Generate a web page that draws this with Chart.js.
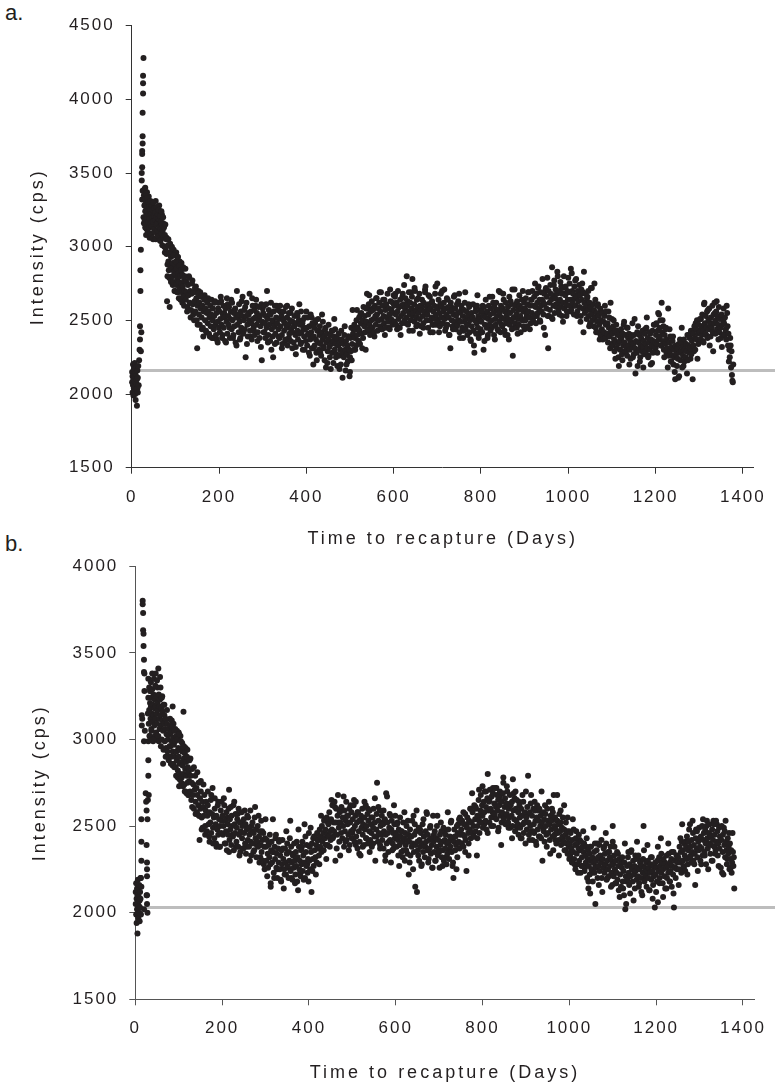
<!DOCTYPE html>
<html><head><meta charset="utf-8">
<script src="https://cdn.jsdelivr.net/npm/chart.js@4.4.1/dist/chart.umd.min.js"></script>
<style>
html,body{margin:0;padding:0;background:#fff;width:775px;height:1088px;overflow:hidden;position:relative;}
canvas{position:absolute;left:0;}
.lbl{position:absolute;font-family:"Liberation Sans",Arial,sans-serif;font-size:22px;line-height:22px;color:#231f20;}
</style></head><body>
<div class="lbl" style="left:5px;top:2px">a.</div>
<div class="lbl" style="left:5px;top:533px">b.</div>
<canvas id="cA" width="775" height="552" style="top:0"></canvas>
<canvas id="cB" width="775" height="543" style="top:545px"></canvas>
<script>
// ---------- DATA ----------
const xTicks = [0, 200, 400, 600, 800, 1000, 1200, 1400];
const yTicksA = [1500, 2000, 2500, 3000, 3500, 4000, 4500];
const yTicksB = [1500, 2000, 2500, 3000, 3500, 4000];
const baselineA = 2160;
const baselineB = 2030;
const xTitle = 'Time to recapture (Days)';
const yTitle = 'Intensity (cps)';

// Panel a: day of recapture and intensity (cps)
const daysA = [
1,1,2,2,3,3,4,4,5,5,6,6,7,7,8,8,9,9,10,10,11,11,12,12,13,13,14,14,15,16,
17,18,19,19,20,20,21,21,22,23,23,24,24,24,25,25,25,26,26,26,27,25,24,
27,28,28,29,29,30,30,31,31,32,32,33,33,34,34,35,36,36,37,38,38,39,40,40,41,42,42,43,44,44,45,46,46,47,48,48,49,50,51,51,52,53,54,54,55,56,57,57,58,59,60,61,61,62,63,64,65,65,66,67,68,68,69,70,71,72,73,74,75,76,77,78,79,
80,81,82,83,84,85,86,87,88,89,90,91,92,93,94,95,96,97,98,99,100,101,102,103,104,105,106,107,108,109,110,111,112,113,114,115,116,117,118,119,120,
121,122,124,125,126,128,129,130,132,133,134,136,137,138,140,141,142,144,145,146,148,149,150,151,152,154,155,156,158,159,160,162,163,164,165,166,168,169,170,172,173,174,176,177,178,180,181,182,184,185,186,188,189,190,192,193,194,196,197,198,200,
201,202,203,205,206,207,209,210,211,213,214,215,217,218,219,221,222,223,225,226,227,229,230,231,233,234,235,237,238,239,241,242,243,245,246,247,249,250,251,253,254,255,257,258,259,261,262,263,265,266,267,269,270,271,273,274,275,277,278,279,281,282,283,285,286,287,289,290,291,293,294,295,297,298,299,
301,302,303,305,306,307,309,310,311,313,314,315,317,318,319,321,322,323,324,325,327,328,329,331,332,333,335,336,337,339,340,341,343,344,345,347,348,349,351,352,353,355,356,357,359,360,361,363,364,365,367,368,369,371,372,373,375,376,377,379,380,381,383,384,385,387,388,389,391,392,393,395,396,397,399,
401,402,403,405,406,407,409,410,411,413,414,416,417,418,419,421,422,423,425,426,427,429,430,431,433,434,435,437,438,439,441,442,443,445,446,447,449,450,451,453,454,455,457,458,459,461,462,463,465,466,467,469,470,471,473,474,475,477,478,479,481,482,483,485,486,487,489,490,491,493,494,495,497,498,499,500,
501,502,503,505,506,507,509,510,511,513,514,515,517,518,519,521,522,523,525,526,527,529,530,531,533,534,535,537,538,539,541,542,543,545,546,547,549,550,551,553,554,555,557,558,559,561,562,563,565,566,567,569,570,571,573,574,575,577,578,579,581,582,583,585,586,587,589,590,591,593,594,595,597,598,599,
601,602,603,605,606,607,609,610,611,613,614,615,617,618,619,621,622,623,625,626,627,629,630,631,633,634,635,637,638,639,641,642,643,644,645,647,648,649,651,652,653,655,656,657,659,660,661,663,664,665,667,668,669,671,672,673,675,676,677,679,680,681,683,684,685,687,688,689,690,691,693,694,695,697,698,699,700,
701,702,703,705,706,707,709,710,711,713,714,715,717,718,719,721,722,723,725,726,727,729,730,731,733,734,735,737,738,739,741,742,743,745,746,747,749,750,751,753,754,755,757,758,759,761,762,763,765,766,767,769,770,771,773,774,775,777,778,779,781,782,783,785,786,787,789,790,791,793,794,795,797,798,799,
801,802,803,805,806,807,809,810,811,813,814,815,817,818,819,821,822,823,825,826,827,829,830,831,833,834,835,837,838,839,841,842,843,845,846,847,849,850,851,853,854,855,857,858,859,861,862,863,865,866,867,869,870,871,873,874,875,877,878,879,881,882,883,885,886,887,889,890,891,893,894,895,897,898,899,
901,902,903,905,906,907,909,910,911,913,914,915,917,918,919,921,922,923,925,926,927,929,930,931,933,934,935,937,938,939,941,942,943,945,946,947,949,950,951,953,954,955,957,958,959,961,962,963,965,966,967,969,970,971,973,974,975,977,978,979,981,982,983,985,986,987,989,990,991,993,994,995,997,998,999,
1001,1002,1003,1005,1006,1007,1009,1010,1011,1013,1014,1015,1017,1018,1019,1021,1022,1023,1025,1026,1027,1029,1030,1031,1033,1034,1035,1037,1038,1039,1041,1042,1043,1045,1046,1047,1049,1050,1051,1053,1054,1055,1057,1058,1059,1061,1062,1063,1065,1066,1067,1069,1070,1071,1073,1074,1075,1077,1078,1079,1081,1082,1083,1085,1086,1087,1089,1090,1091,1093,1094,1095,1097,1098,1099,
1101,1102,1103,1105,1106,1107,1109,1110,1111,1113,1114,1115,1117,1118,1119,1121,1122,1123,1125,1126,1127,1129,1130,1131,1133,1134,1135,1137,1138,1139,1141,1142,1143,1145,1146,1147,1149,1150,1151,1153,1154,1155,1157,1158,1159,1161,1162,1163,1165,1166,1167,1169,1170,1171,1173,1174,1175,1177,1178,1179,1181,1182,1183,1185,1186,1187,1189,1190,1191,1193,1194,1195,1197,1198,1199,
1201,1202,1203,1205,1206,1207,1209,1210,1211,1213,1214,1215,1217,1218,1219,1221,1222,1223,1225,1226,1227,1229,1230,1231,1233,1234,1235,1237,1238,1239,1241,1242,1243,1245,1246,1247,1249,1250,1251,1253,1254,1255,1257,1258,1259,1261,1262,1263,1265,1266,1267,1269,1270,1271,1273,1274,1275,1277,1278,1279,1281,1282,1283,1285,1286,1287,1289,1290,1291,1293,1294,1295,1297,1298,1299,
1301,1302,1303,1305,1306,1307,1309,1310,1311,1313,1314,1315,1317,1318,1319,1321,1322,1323,1325,1326,1327,1329,1330,1331,1333,1334,1335,1337,1338,1339,1341,1342,1343,1345,1346,1347,1349,1350,1351,1353,1354,1355,1357,1358,1359,1361,1362,1363,1365,1366,1367,1369,1370,1371,1373,1374,1375,1377,1378
];
const cpsA = [
2080,2150,2010,2120,2200,2060,2100,1990,2170,2040,2130,2090,2210,2050,2000,2140,2080,1960,2120,2030,2180,2070,1920,2100,2040,2160,2010,2110,2190,2060,
2230,2300,2370,2460,2700,2840,2980,2290,2420,3450,3500,3540,3630,3650,3700,3750,3910,4040,4110,4160,4280,3380,3320,
3200,3350,3160,3390,3280,3180,3320,3240,3400,3150,3290,3210,3360,3120,3260,3330,3190,3240,3100,3300,3170,3220,3270,3130,3190,3250,3090,3310,3160,3220,3080,3280,3140,3200,3250,3060,3170,3300,3120,3210,3260,3100,3180,3230,3050,3150,3270,3200,3110,3160,3220,3070,3190,3250,3130,3180,3040,3210,3120,3170,3240,3090,3150,3010,3110,3200,3060,3130,3000,3080,3150,2990,3050,
2950,2630,2880,3010,2900,2840,2960,2590,2870,2780,2930,2850,2990,2800,2890,2760,2940,2830,2700,2880,2810,2900,2740,2850,2780,2930,2690,2820,2760,2870,2720,2800,2650,2840,2750,2690,2810,2730,2860,2660,2770,
2700,2800,2640,2760,2690,2590,2740,2670,2790,2620,2700,2570,2680,2750,2610,2540,2690,2630,2720,2560,2650,2500,2310,2600,2680,2540,2620,2470,2580,2660,2520,2600,2450,2390,2560,2640,2500,2580,2430,2550,2620,2480,2560,2410,2520,2600,2460,2540,2380,2500,2580,2440,2530,2620,2470,2400,2550,2490,2350,2580,2450,
2560,2420,2510,2630,2470,2380,2540,2600,2450,2520,2360,2580,2490,2650,2410,2530,2470,2590,2380,2510,2560,2440,2620,2500,2400,2550,2460,2580,2350,2520,2700,2470,2540,2420,2610,2490,2380,2560,2450,2530,2660,2410,2500,2570,2440,2250,2530,2620,2470,2390,2550,2500,2680,2430,2560,2480,2370,2600,2510,2450,2570,2400,2520,2640,2470,2550,2420,2500,2590,2380,2530,2460,2610,2230,2490,
2550,2420,2600,2480,2380,2530,2450,2700,2510,2400,2570,2470,2360,2540,2620,2440,2500,2390,2250,2560,2460,2600,2410,2520,2350,2480,2570,2440,2510,2380,2600,2460,2530,2400,2340,2500,2560,2430,2480,2370,2590,2450,2520,2330,2470,2550,2410,2500,2360,2440,2580,2420,2490,2350,2460,2530,2400,2320,2480,2550,2430,2370,2500,2410,2470,2340,2560,2420,2480,2300,2450,2390,2520,2440,2360,
2450,2330,2520,2400,2280,2460,2370,2540,2420,2310,2480,2200,2390,2450,2330,2500,2370,2280,2430,2350,2510,2300,2400,2460,2340,2260,2420,2370,2490,2310,2390,2230,2440,2180,2350,2410,2290,2370,2470,2320,2250,2400,2340,2430,2280,2360,2210,2390,2300,2440,2340,2270,2380,2190,2330,2410,2260,2350,2300,2200,2370,2280,2110,2340,2250,2400,2300,2160,2360,2270,2330,2220,2390,2300,2120,2250,
2380,2290,2450,2340,2570,2410,2300,2470,2380,2440,2330,2500,2400,2450,2360,2520,2430,2340,2480,2550,2410,2500,2380,2590,2460,2530,2420,2580,2490,2680,2440,2540,2610,2470,2400,2560,2500,2630,2450,2570,2510,2420,2600,2530,2470,2650,2540,2430,2580,2500,2620,2460,2560,2690,2510,2440,2600,2530,2480,2640,2570,2450,2610,2520,2680,2490,2580,2540,2440,2630,2510,2570,2470,2620,2550,
2600,2490,2660,2540,2470,2620,2560,2700,2510,2590,2450,2640,2530,2600,2480,2680,2550,2610,2500,2580,2650,2520,2800,2600,2470,2560,2690,2540,2620,2500,2580,2660,2780,2430,2550,2610,2490,2700,2570,2520,2640,2470,2590,2550,2680,2510,2600,2460,2570,2640,2530,2480,2620,2560,2690,2730,2500,2590,2540,2450,2610,2570,2660,2500,2580,2520,2630,2470,2420,2560,2600,2510,2680,2540,2470,2590,2750,
2580,2490,2640,2550,2460,2610,2520,2590,2700,2480,2560,2620,2510,2430,2580,2540,2650,2470,2590,2520,2400,2560,2310,2620,2500,2570,2460,2540,2660,2490,2580,2440,2530,2610,2470,2550,2500,2680,2420,2560,2490,2600,2450,2530,2380,2570,2490,2620,2440,2510,2560,2400,2530,2470,2590,2420,2500,2360,2550,2460,2520,2610,2430,2280,2500,2560,2410,2480,2600,2450,2530,2380,2510,2570,2440,
2490,2560,2420,2530,2300,2590,2470,2520,2640,2450,2560,2380,2510,2600,2470,2540,2430,2580,2500,2660,2460,2550,2400,2590,2510,2470,2620,2530,2440,2570,2700,2490,2550,2420,2600,2520,2460,2580,2680,2510,2430,2560,2620,2480,2540,2400,2590,2510,2660,2470,2550,2610,2500,2440,2260,2570,2520,2710,2480,2600,2540,2450,2630,2510,2570,2470,2600,2530,2420,2580,2640,2500,2560,2460,2620,
2580,2500,2650,2540,2460,2610,2560,2690,2520,2600,2480,2640,2550,2700,2510,2600,2660,2530,2590,2480,2680,2620,2550,2720,2580,2640,2500,2690,2600,2560,2780,2630,2540,2680,2610,2400,2720,2580,2660,2530,2310,2700,2620,2570,2740,2640,2520,2860,2670,2600,2740,2550,2650,2710,2590,2680,2830,2620,2560,2700,2640,2760,2590,2680,2530,2720,2620,2800,2580,2670,2730,2610,2560,2700,2640,
2690,2600,2750,2640,2850,2570,2700,2620,2680,2540,2730,2650,2600,2780,2660,2560,2700,2630,2740,2590,2670,2530,2710,2640,2580,2690,2420,2620,2550,2680,2600,2510,2650,2570,2700,2530,2620,2480,2590,2540,2720,2500,2610,2460,2570,2520,2640,2450,2550,2490,2600,2420,2530,2470,2580,2400,2500,2440,2550,2370,2490,2420,2530,2380,2470,2560,2410,2480,2350,2450,2520,2390,2620,2430,2340,
2410,2330,2460,2370,2290,2430,2350,2470,2310,2400,2340,2250,2420,2360,2300,2440,2380,2270,2410,2330,2470,2350,2290,2400,2320,2450,2260,2380,2330,2410,2300,2360,2240,2390,2320,2480,2340,2270,2400,2310,2140,2360,2280,2420,2190,2350,2300,2400,2250,2330,2380,2290,2430,2320,2360,2270,2410,2340,2290,2450,2310,2380,2250,2350,2420,2300,2200,2370,2330,2430,2280,2360,2320,2470,2350,
2400,2480,2340,2430,2550,2370,2450,2390,2500,2330,2620,2420,2360,2460,2300,2400,2340,2440,2280,2370,2310,2580,2260,2350,2290,2390,2220,2320,2260,2360,2200,2300,2250,2100,2330,2270,2190,2310,2240,2340,2120,2280,2230,2350,2290,2180,2320,2260,2370,2220,2300,2250,2340,2290,2400,2230,2330,2280,2380,2310,2430,2270,2360,2100,2410,2330,2460,2380,2300,2440,2370,2500,2410,2340,2470,
2420,2510,2370,2460,2400,2540,2430,2350,2610,2480,2410,2530,2450,2560,2380,2500,2440,2580,2470,2390,2520,2450,2600,2420,2540,2480,2620,2410,2500,2560,2440,2530,2470,2590,2420,2510,2450,2380,2540,2470,2400,2500,2480,2400,2520,2440,2370,2600,2460,2330,2410,2300,2250,2380,2180,2290,2130,2080,2200
];
// Panel a: additional recaptures on the same / in-between days
const daysA2 = [
28,31,33,35,37,39,41,43,45,47,49,52,55,58,60,63,66,69,72,76,
80,82,84,86,88,90,92,94,96,98,100,102,104,106,108,110,112,114,116,118,120,123,127,131,135,139,143,147,151,153,157,161,167,171,175,179,183,187,191,195,199,
204,208,212,216,220,224,228,232,236,240,244,248,252,256,260,264,268,272,276,280,284,288,292,296,300,
304,308,312,316,320,324,328,332,336,340,344,348,352,356,360,364,368,372,376,380,384,388,392,396,400,
404,408,412,416,420,424,428,432,436,440,444,448,452,456,460,464,468,472,476,480,484,488,492,496,500,
504,508,512,516,520,524,528,532,536,540,544,548,552,556,560,564,568,572,576,580,584,588,592,596,600,
604,608,612,616,620,624,628,632,636,640,644,648,652,656,660,664,668,672,676,680,684,688,692,696,700,
704,708,712,716,720,724,728,732,736,740,744,748,752,756,760,764,768,772,776,780,784,788,792,796,800,
804,808,812,816,820,824,828,832,836,840,844,848,852,856,860,864,868,872,876,880,884,888,892,896,900,
904,908,912,916,920,924,928,932,936,940,944,948,952,956,960,964,968,972,976,980,984,988,992,996,1000,
1004,1008,1012,1016,1020,1024,1028,1032,1036,1040,1044,1048,1052,1056,1060,1064,1068,1072,1076,1080,1084,1088,1092,1096,1100,
1104,1108,1112,1116,1120,1124,1128,1132,1136,1140,1144,1148,1152,1156,1160,1164,1168,1172,1176,1180,1184,1188,1192,1196,1200,
1204,1208,1212,1216,1220,1224,1228,1232,1236,1240,1244,1248,1252,1256,1260,1264,1268,1272,1276,1280,1284,1288,1292,1296,1300,
1304,1308,1312,1316,1320,1324,1328,1332,1336,1340,1344,1348,1352,1356,1360,1364,1368,1372,1376
];
const cpsA2 = [
3380,3130,3080,3370,3230,3340,3060,3200,3300,3180,3050,3150,3310,3260,3080,3280,3040,3220,3160,2960,
3060,2800,3050,2790,3020,2760,3000,2740,2980,2950,2700,2960,2690,2930,2650,2900,2640,2890,2620,2850,2600,2850,2560,2800,2520,2770,2500,2730,2470,2700,2690,2440,2670,2420,2650,2390,2640,2380,2630,2370,2620,
2660,2400,2550,2350,2610,2450,2640,2380,2570,2330,2520,2370,2630,2420,2590,2340,2540,2390,2650,2430,2600,2360,2510,2320,2580,
2420,2610,2350,2540,2300,2490,2340,2600,2390,2560,2310,2510,2360,2600,2380,2550,2310,2460,2270,2530,2610,2350,2500,2300,2560,
2410,2260,2520,2310,2480,2230,2430,2280,2540,2320,2450,2210,2360,2170,2430,2510,2250,2370,2170,2430,2270,2460,2200,2390,2150,
2230,2440,2300,2570,2360,2540,2310,2470,2300,2580,2670,2420,2580,2390,2650,2500,2690,2440,2640,2400,2590,2450,2710,2500,2670,
2680,2440,2590,2400,2660,2740,2480,2630,2430,2690,2530,2720,2460,2650,2410,2600,2450,2710,2500,2670,2420,2620,2470,2730,2510,
2420,2680,2520,2710,2450,2640,2400,2590,2440,2670,2460,2630,2380,2580,2430,2690,2470,2610,2370,2520,2330,2590,2670,2410,2560,
2600,2360,2550,2400,2660,2450,2620,2370,2570,2430,2690,2470,2640,2400,2560,2370,2630,2710,2450,2610,2410,2670,2510,2700,2440,
2520,2690,2440,2640,2490,2750,2530,2730,2490,2640,2450,2710,2790,2530,2680,2510,2770,2610,2800,2540,2730,2490,2680,2530,2790,
2560,2820,2600,2770,2530,2680,2490,2750,2830,2570,2660,2460,2720,2560,2750,2420,2610,2370,2560,2410,2600,2390,2560,2310,2510,
2500,2240,2430,2190,2380,2230,2490,2280,2450,2200,2400,2250,2510,2290,2460,2220,2370,2180,2440,2520,2260,2410,2210,2470,2310,
2280,2540,2330,2500,2250,2450,2180,2440,2220,2390,2150,2300,2110,2370,2450,2190,2340,2140,2400,2240,2430,2290,2480,2240,2430,
2510,2360,2620,2400,2570,2330,2480,2290,2550,2630,2370,2520,2320,2580,2420,2550,2220,2330,2090
];

// Panel b: day of recapture and intensity (cps)
const daysB = [
1,1,2,2,3,3,4,4,5,5,6,6,7,7,8,8,9,9,10,10,11,11,12,12,13,14,27,27,28,
13,14,14,14,15,15,16,17,17,18,18,19,19,20,20,21,21,20,20,22,24,25,26,26,26,27,27,27,28,29,30,30,30,31,
29,30,31,32,32,33,34,34,35,36,36,37,38,38,39,40,40,41,42,42,43,44,44,45,46,46,47,48,48,49,50,50,51,52,53,53,54,55,55,56,57,58,58,59,60,61,61,62,63,64,64,65,66,67,68,69,70,71,72,73,74,75,76,77,78,79,80,
81,82,83,84,85,86,86,87,88,89,90,91,92,93,94,95,96,97,98,99,100,101,101,102,103,104,105,106,107,108,109,110,111,111,112,113,114,115,116,117,118,119,120,121,122,123,124,125,126,128,129,130,131,133,134,135,137,138,139,141,142,143,145,146,147,148,149,150,151,153,154,155,157,158,159,161,162,163,165,166,167,169,170,171,173,174,175,177,178,179,181,182,183,185,186,187,189,190,191,193,194,195,197,198,199,
201,202,203,205,206,207,209,210,211,213,214,215,216,217,218,219,221,222,223,225,226,227,229,230,231,233,234,235,237,238,239,241,242,243,245,246,247,249,250,251,253,254,255,257,258,259,261,262,263,265,266,267,269,270,271,273,274,275,277,278,279,281,282,283,285,286,287,289,290,291,293,294,295,297,298,299,
301,302,303,305,306,307,309,310,311,312,313,314,315,317,318,319,321,322,323,325,326,327,329,330,331,333,334,335,337,338,339,341,342,343,345,346,347,349,350,351,353,354,355,357,358,359,361,362,363,365,366,367,369,370,371,373,374,375,377,378,379,381,382,383,385,386,387,389,390,391,393,394,395,397,398,399,
401,402,403,405,406,407,409,410,411,413,414,415,417,418,419,421,422,423,425,426,427,429,430,431,433,434,435,437,438,439,441,442,443,445,446,447,449,450,451,453,454,455,457,458,459,461,
462,463,465,466,467,469,470,471,473,474,475,477,478,479,481,482,483,485,486,487,489,490,491,493,494,495,497,498,499,501,502,503,505,506,507,508,509,511,512,513,515,516,517,519,520,521,523,524,525,527,528,529,531,532,533,535,536,537,539,540,541,543,544,545,547,548,549,551,552,553,555,556,557,559,560,561,563,564,565,567,568,569,571,572,573,575,576,577,578,579,581,582,583,585,586,587,589,590,591,593,594,595,597,598,599,
601,602,603,605,606,607,609,610,611,613,614,615,617,618,619,621,622,623,625,626,627,629,630,631,633,634,635,637,638,639,641,642,643,645,646,647,649,650,651,653,654,655,657,658,659,661,662,663,665,666,667,669,670,671,673,674,675,677,678,679,681,682,683,685,686,687,689,690,691,693,694,695,697,698,699,701,702,703,705,706,707,709,710,711,713,714,715,717,718,719,721,722,723,725,726,727,729,730,731,733,734,735,737,738,739,741,742,743,745,746,747,749,
751,752,753,755,756,757,759,760,761,763,764,765,767,768,769,771,772,773,775,776,777,779,780,781,783,784,785,787,788,789,791,792,793,795,796,797,799,800,801,803,804,805,807,808,809,811,812,813,815,816,817,819,820,821,823,824,825,827,828,829,831,832,833,835,836,837,839,840,841,843,844,845,847,848,849,851,852,853,855,856,857,859,860,861,863,864,865,867,868,869,870,871,873,874,875,877,878,879,881,882,883,885,886,887,889,890,891,893,894,895,897,898,899,
901,902,903,905,906,907,909,910,911,913,914,915,917,918,919,921,922,923,925,926,927,929,930,931,933,934,935,937,938,939,941,942,943,945,946,947,949,950,951,953,954,955,957,958,959,961,962,963,965,966,967,969,970,971,972,973,975,976,977,979,980,981,983,984,985,987,988,989,991,992,993,995,996,997,999,1000,
1001,1002,1003,1005,1006,1007,1009,1010,1011,1013,1014,1015,1017,1018,1019,1021,1022,1023,1025,1026,1027,1029,1030,1031,1033,1034,1035,1037,1038,1039,1041,1042,1043,1044,1045,1046,1047,1048,1049,1050,1051,1053,1054,1055,1057,1058,1059,1060,1061,1062,1063,1065,1066,1067,1069,1070,1071,1073,1074,1075,1077,1078,1079,1081,1082,1083,1085,1086,1087,1089,1090,1091,1093,1094,1095,1097,1098,1099,1100,
1101,1102,1103,1105,1106,1107,1109,1110,1111,1113,1114,1115,1117,1118,1119,1121,1122,1123,1125,1126,1127,1129,1130,1131,1133,1134,1135,1137,1138,1139,1141,1142,1143,1145,1146,1147,1149,1150,1151,1153,1154,1155,1157,1158,1159,1161,1162,1163,1165,1166,1167,1169,1170,1171,1173,1174,1175,1177,1178,1179,1181,1182,1183,1185,1186,1187,1189,1190,1191,1193,1194,1195,1197,1198,1199,1201,1202,1203,1204,1205,1207,1208,1209,1211,1212,1213,1215,1216,1217,1219,1220,1221,1223,1224,1225,1227,1228,1229,1231,1232,1233,1235,1236,1237,1239,1240,1241,1243,1244,1245,1247,1248,1249,
1251,1253,1254,1255,1257,1258,1259,1261,1262,1263,1265,1266,1267,1269,1270,1271,1273,1274,1275,1277,1278,1279,1281,1282,1283,1285,1286,1287,1289,1290,1291,1293,1294,1295,1297,1298,1299,1301,1302,1303,1305,1306,1307,1309,1310,1311,1313,1314,1315,1317,1318,1319,1321,1322,1323,1325,1326,1327,1329,1330,1331,1333,1334,1335,1337,1338,1339,1341,1342,1343,1345,1346,1347,1349,1350,1351,1353,1354,1355,1357,1358,1359,1361,1362,1363,1365,1366,1367,1369,1370,1371,1373,1374,1375,1377,1378,1379,1380
];
const cpsB = [
2050,2120,1990,2170,2080,1940,2140,2020,1880,2100,2060,2190,1970,2130,2040,2090,2160,2000,2070,1950,2120,2030,2200,2080,1990,2150,2100,2050,2000,
2200,2300,2410,2540,3080,3140,3120,3800,3780,3730,3630,3610,3540,3460,3390,3380,3280,2990,2020,3050,2690,2640,2590,2390,2100,2210,2250,2290,2540,2650,2790,2880,2990,2680,
3150,3240,3090,3300,3170,3020,3210,3280,3120,3330,3190,3060,3240,3150,3290,3100,3200,3000,3260,3140,3350,3180,3080,3230,3120,3310,3190,3040,3250,3150,3340,3090,3210,3170,3410,3020,3260,3120,3190,3060,3230,3140,3300,3080,3180,3000,3240,3110,3160,2860,3050,3200,3090,3140,2990,3060,3120,2950,3030,3090,2930,3000,3060,2900,3030,2960,3080,
2960,3040,2900,2990,3070,3190,2930,3010,2860,2970,3050,2900,2990,2840,3020,2930,2880,3000,2820,2950,2900,2730,3030,2860,2940,2800,2990,2870,2780,2930,2850,2960,3160,2800,2890,2740,2920,2830,2700,2870,2790,2900,2750,2840,2680,2810,2760,2880,2700,2790,2650,2750,2830,2680,2740,2600,2710,2790,2640,2720,2580,2680,2620,2750,2560,2420,2660,2600,2700,2550,2640,2490,2610,2560,2680,2500,2590,2640,2470,2560,2620,2510,2440,2580,2520,2650,2460,2570,2720,2490,2550,2430,2600,2510,2400,2560,2480,2620,2450,2540,2380,2500,2590,2460,2530,
2560,2450,2500,2620,2400,2530,2470,2580,2360,2510,2450,2600,2710,2420,2540,2480,2390,2560,2500,2440,2620,2360,2510,2460,2570,2410,2490,2540,2380,2600,2450,2520,2350,2470,2580,2430,2500,2370,2540,2460,2400,2510,2340,2480,2560,2420,2490,2380,2450,2590,2410,2330,2470,2520,2400,2460,2360,2550,2430,2480,2320,2410,2500,2380,2440,2290,2470,2390,2530,2350,2420,2300,2460,2380,2250,2430,
2380,2300,2420,2340,2260,2390,2320,2450,2280,2150,2360,2410,2290,2540,2350,2230,2380,2310,2430,2260,2340,2200,2370,2290,2410,2250,2330,2190,2360,2280,2420,2310,2140,2250,2370,2290,2220,2340,2400,2270,2200,2350,2300,2530,2240,2380,2290,2190,2330,2260,2400,2300,2220,2350,2270,2180,2320,2130,2380,2250,2300,2210,2360,2280,2410,2240,2330,2290,2510,2200,2350,2270,2390,2230,2310,2180,
2300,2380,2250,2350,2120,2400,2310,2430,2270,2360,2440,2320,2390,2290,2460,2370,2420,2330,2480,2380,2440,2350,2500,2410,2460,2360,2530,2430,2480,2390,2550,2450,2390,2510,2440,2580,2470,2420,2540,2480,2620,2430,2520,2470,2640,2300,
2520,2600,2450,2560,2680,2490,2410,2580,2520,2460,2610,2430,2550,2500,2380,2590,2470,2530,2640,2420,2510,2560,2450,2600,2390,2520,2470,2580,2430,2540,2480,2620,2410,2500,2560,2640,2440,2520,2370,2580,2470,2530,2410,2330,2560,2490,2600,2450,2510,2390,2550,2480,2620,2430,2500,2570,2400,2530,2470,2590,2420,2510,2460,2380,2550,2490,2600,2440,2520,2300,2480,2570,2750,2410,2530,2460,2590,2390,2500,2450,2560,2420,2510,2370,2470,2540,2300,2450,2690,2400,2520,2460,2350,2490,2570,2420,2290,2480,2530,2400,2460,2370,2510,2430,2560,
2450,2380,2510,2420,2330,2480,2390,2550,2440,2350,2470,2410,2520,2360,2430,2300,2460,2390,2500,2420,2340,2450,2220,2410,2480,2330,2440,2380,2530,2400,2560,2350,2450,2150,2390,2470,2120,2410,2360,2490,2300,2420,2380,2460,2270,2400,2510,2350,2440,2390,2320,2470,2410,2580,2360,2450,2290,2420,2370,2490,2340,2430,2390,2260,2560,2410,2350,2470,2300,2430,2380,2500,2330,2420,2360,2260,2450,2390,2470,2320,2410,2360,2490,2300,2420,2370,2450,2280,2400,2340,2480,2410,2310,2440,2380,2520,2350,2430,2270,2200,2410,2480,2360,2440,2390,2500,2320,2460,2410,2540,2370,2450,
2480,2400,2530,2450,2380,2510,2440,2570,2420,2240,2490,2550,2460,2400,2530,2480,2600,2430,2520,2460,2580,2500,2440,2620,2540,2470,2600,2330,2560,2500,2650,2530,2460,2590,2680,2520,2620,2560,2490,2640,2580,2700,2530,2610,2480,2660,2800,2590,2640,2520,2710,2600,2550,2670,2580,2690,2500,2630,2570,2720,2610,2540,2680,2590,2650,2490,2620,2700,2560,2390,2640,2580,2690,2750,2540,2610,2660,2510,2630,2570,2700,2520,2600,2550,2680,2490,2620,2560,2640,2500,2770,2590,2540,2660,2470,2600,2530,2650,2510,2580,2450,2620,2550,2490,2600,2430,2560,2510,2640,2460,2580,2520,2400,
2550,2480,2610,2790,2520,2450,2580,2500,2630,2470,2560,2420,2600,2510,2460,2590,2530,2410,2550,2620,2480,2530,2440,2600,2500,2560,2430,2520,2300,2580,2470,2540,2410,2570,2500,2450,2600,2530,2460,2640,2510,2420,2560,2480,2530,2440,2580,2360,2500,2450,2550,2480,2400,2530,2680,2460,2510,2420,2570,2470,2520,2390,2490,2440,2550,2410,2480,2360,2450,2520,2400,2470,2340,2430,2380,2470,
2400,2330,2460,2370,2290,2420,2350,2480,2310,2390,2250,2430,2340,2400,2280,2370,2450,2300,2360,2230,2410,2320,2380,2270,2350,2400,2240,2330,2290,2380,2200,2310,2360,2140,2270,2340,2220,2110,2300,2380,2250,2320,2180,2290,2350,2230,2400,2050,2300,2260,2360,2200,2320,2270,2390,2240,2330,2290,2420,2200,2310,2260,2370,2230,2340,2280,2400,2190,2300,2250,2350,2210,2320,2270,2380,2230,2300,2160,2500,
2280,2210,2330,2250,2170,2300,2230,2350,2190,2270,2130,2310,2220,2280,2150,2260,2320,2180,2240,2100,2290,2020,2210,2050,2270,2190,2320,2230,2160,2280,2210,2350,2360,2250,2180,2300,2220,2270,2140,2240,2310,2190,2260,2210,2330,2170,2250,2290,2200,2120,2270,2230,2310,2500,2180,2260,2220,2290,2150,2240,2300,2200,2260,2130,2230,2280,2190,2320,2240,2160,2270,2210,2030,2290,2220,2260,2180,2300,2060,2240,2320,2200,2270,2430,2230,2290,2170,2250,2310,2210,2280,2140,2260,2330,2200,2270,2230,2340,2180,2290,2240,2310,2150,2270,2220,2350,2030,2260,2300,2200,2330,2250,2290,
2320,2250,2380,2290,2350,2230,2410,2300,2360,2270,2400,2330,2240,2380,2310,2440,2280,2360,2410,2320,2510,2380,2290,2420,2350,2460,2300,2390,2340,2160,2430,2370,2470,2320,2410,2360,2490,2380,2300,2440,2370,2500,2330,2420,2460,2350,2480,2400,2280,2530,2430,2370,2460,2400,2510,2340,2440,2390,2480,2300,2420,2510,2380,2450,2360,2530,2410,2470,2330,2400,2490,2370,2440,2260,2420,2500,2350,2450,2220,2390,2470,2320,2410,2360,2280,2430,2340,2380,2250,2400,2310,2360,2230,2290,2350,2270,2320,2140
];
// Panel b: additional recaptures on the same / in-between days
const daysB2 = [
30,33,35,37,39,41,43,45,47,49,51,54,57,59,62,65,67,70,73,77,
80,82,84,86,88,90,92,94,96,98,100,102,104,106,108,110,112,114,116,118,120,123,127,131,135,139,143,147,151,153,157,161,167,171,175,179,183,187,191,195,199,
204,208,212,216,220,224,228,232,236,240,244,248,252,256,260,264,268,272,276,280,284,288,292,296,300,
304,308,312,316,320,324,328,332,336,340,344,348,352,356,360,364,368,372,376,380,384,388,392,396,400,
404,408,412,416,420,424,428,432,436,440,444,448,452,456,460,
464,468,472,476,480,484,488,492,496,500,504,508,512,516,520,524,528,532,536,540,544,548,552,556,560,564,568,572,576,580,584,588,592,596,600,
604,608,612,616,620,624,628,632,636,640,644,648,652,656,660,664,668,672,676,680,684,688,692,696,700,704,708,712,716,720,724,728,732,736,740,744,748,
752,756,760,764,768,772,776,780,784,788,792,796,800,804,808,812,816,820,824,828,832,836,840,844,848,852,856,860,864,868,872,876,880,884,888,892,896,900,
904,908,912,916,920,924,928,932,936,940,944,948,952,956,960,964,968,972,976,980,984,988,992,996,1000,
1004,1008,1012,1016,1020,1024,1028,1032,1036,1040,1044,1048,1052,1056,1060,1064,1068,1072,1076,1080,1084,1088,1092,1096,1100,
1104,1108,1112,1116,1120,1124,1128,1132,1136,1140,1144,1148,1152,1156,1160,1164,1168,1172,1176,1180,1184,1188,1192,1196,1200,1204,1208,1212,1216,1220,1224,1228,1232,1236,1240,1244,1248,
1252,1256,1260,1264,1268,1272,1276,1280,1284,1288,1292,1296,1300,1304,1308,1312,1316,1320,1324,1328,1332,1336,1340,1344,1348,1352,1356,1360,1364,1368,1372,1376
];
const cpsB2 = [
3350,3020,3280,3050,3380,2990,3240,3020,3380,3000,3300,2990,3360,2960,3250,2940,3200,2900,3170,2880,
3120,2860,3110,2850,3090,2840,3060,2790,3050,2780,3040,2770,3020,2750,2980,2730,2960,2700,2950,2690,2940,2680,2890,2610,2840,2570,2810,2560,2760,2480,2740,2450,2700,2410,2680,2400,2660,2380,2640,2380,2640,
2660,2400,2550,2350,2610,2450,2640,2380,2570,2330,2520,2370,2590,2380,2550,2300,2500,2350,2610,2390,2560,2320,2470,2280,2540,
2210,2400,2170,2350,2200,2450,2250,2420,2180,2370,2220,2470,2260,2430,2200,2340,2170,2410,2480,2230,2380,2190,2440,2280,2460,
2490,2240,2440,2220,2420,2280,2560,2360,2540,2310,2520,2380,2650,2440,2610,
2370,2520,2330,2590,2670,2410,2560,2360,2620,2460,2650,2390,2580,2340,2530,2380,2640,2430,2600,2350,2550,2400,2660,2440,2610,2370,2520,2590,2330,2670,2410,2560,2360,2620,2460,
2520,2270,2470,2320,2580,2360,2530,2290,2440,2250,2510,2590,2330,2480,2280,2540,2380,2570,2310,2500,2260,2450,2300,2560,2350,2520,2270,2470,2320,2580,2360,2530,2290,2440,2250,2510,2550,
2400,2580,2350,2510,2330,2600,2690,2440,2610,2430,2710,2560,2730,2510,2700,2460,2650,2500,2720,2550,2720,2470,2670,2520,2780,2560,2730,2490,2630,2430,2690,2700,2490,2640,2430,2680,2520,2700,
2570,2420,2680,2470,2640,2390,2590,2440,2700,2480,2620,2380,2530,2340,2600,2680,2420,2530,2330,2590,2430,2620,2360,2550,2310,
2350,2540,2280,2470,2230,2420,2270,2470,2260,2430,2180,2380,2230,2490,2270,2400,2160,2310,2120,2380,2460,2200,2350,2150,2410,
2380,2170,2340,2090,2290,2140,2400,2180,2350,2110,2260,2070,2330,2410,2150,2300,2100,2360,2200,2390,2130,2320,2080,2270,2120,2380,2170,2340,2090,2290,2140,2400,2180,2350,2110,2260,2330,
2160,2430,2510,2260,2410,2220,2480,2330,2530,2280,2480,2240,2430,2280,2540,2330,2500,2250,2450,2300,2530,2340,2510,2270,2420,2230,2490,2530,2310,2460,2260,2460
];

// ---------- DRAWING ----------
Chart.defaults.font.family = '"Liberation Sans", Arial, sans-serif';
Chart.defaults.color = '#231f20';

const refLine = {
  id: 'refLine',
  beforeDatasetsDraw(chart, args, opts) {
    const y = chart.scales.y.getPixelForValue(opts.value);
    const ctx = chart.ctx;
    ctx.save();
    ctx.strokeStyle = '#bdbdbd';
    ctx.lineWidth = 3;
    ctx.beginPath();
    ctx.moveTo(chart.chartArea.left, y);
    ctx.lineTo(chart.width, y);
    ctx.stroke();
    ctx.restore();
  }
};

const spacing = {
  id: 'spacing',
  afterLayout(chart) {
    for (const s of Object.values(chart.scales)) {
      if (s._spaced) continue;
      const dt = s.drawTitle.bind(s), dl = s.drawLabels.bind(s);
      s.drawTitle = function () { const c = chart.ctx; c.save(); c.letterSpacing = '3px'; dt(); c.restore(); };
      s.drawLabels = function (a) { const c = chart.ctx; c.save(); c.letterSpacing = '2px'; dl(a); c.restore(); };
      s._spaced = true;
    }
  }
};

function pts(days, cps) {
  const n = Math.min(days.length, cps.length);
  const out = [];
  for (let i = 0; i < n; i++) out.push({ x: days[i], y: cps[i] });
  return out;
}

function makeChart(id, sets, yTicks, baseline, g) {
  const style = { pointRadius: 3, pointBackgroundColor: '#231f20', pointBorderWidth: 0, borderWidth: 0, clip: false };
  return new Chart(document.getElementById(id), {
    type: 'scatter',
    data: { datasets: sets.map(s => Object.assign({ data: pts(s[0], s[1]) }, style)) },
    options: {
      responsive: false, animation: false, events: [],
      layout: { padding: { left: 0, right: g.padRight, top: g.top, bottom: 0 } },
      plugins: { legend: { display: false }, tooltip: { enabled: false }, refLine: { value: baseline } },
      scales: {
        x: {
          type: 'linear', min: 0, max: g.xMax,
          afterBuildTicks: a => { a.ticks = xTicks.map(v => ({ value: v })); },
          afterFit: a => { a.height = g.H - g.bottom; },
          ticks: { font: { size: 17 }, padding: 13, maxRotation: 0, autoSkip: false, callback: v => String(v) },
          grid: { drawOnChartArea: false, drawTicks: true, tickLength: 6, color: g.axis, lineWidth: 1 },
          border: { color: g.axis, width: 1 },
          title: { display: true, text: xTitle, font: { size: 18 }, padding: { top: 0, bottom: g.xTitlePad } }
        },
        y: {
          type: 'linear', min: yTicks[0], max: yTicks[yTicks.length - 1],
          afterBuildTicks: a => { a.ticks = yTicks.map(v => ({ value: v })); },
          afterFit: a => { a.width = g.left; },
          ticks: { font: { size: 17 }, padding: 11, callback: v => String(v) },
          grid: { drawOnChartArea: false, drawTicks: true, tickLength: 6, color: g.axis, lineWidth: 1 },
          border: { color: g.axis, width: 1 },
          title: { display: true, text: yTitle, font: { size: 18 }, padding: { top: g.yTitlePad, bottom: 0 } }
        }
      }
    },
    plugins: [refLine, spacing]
  });
}

makeChart('cA', [[daysA, cpsA], [daysA2, cpsA2]], yTicksA, baselineA,
  { H: 552, left: 131.7, top: 25.7, bottom: 467.7, padRight: 13.3, xMax: 1425, axis: '#333', xTitlePad: 2, yTitlePad: 27 });
makeChart('cB', [[daysB, cpsB], [daysB2, cpsB2]], yTicksB, baselineB,
  { H: 543, left: 135.3, top: 14, bottom: 454.3, padRight: 8.3, xMax: 1427, axis: '#555', xTitlePad: 4, yTitlePad: 29 });
</script>
</body></html>
